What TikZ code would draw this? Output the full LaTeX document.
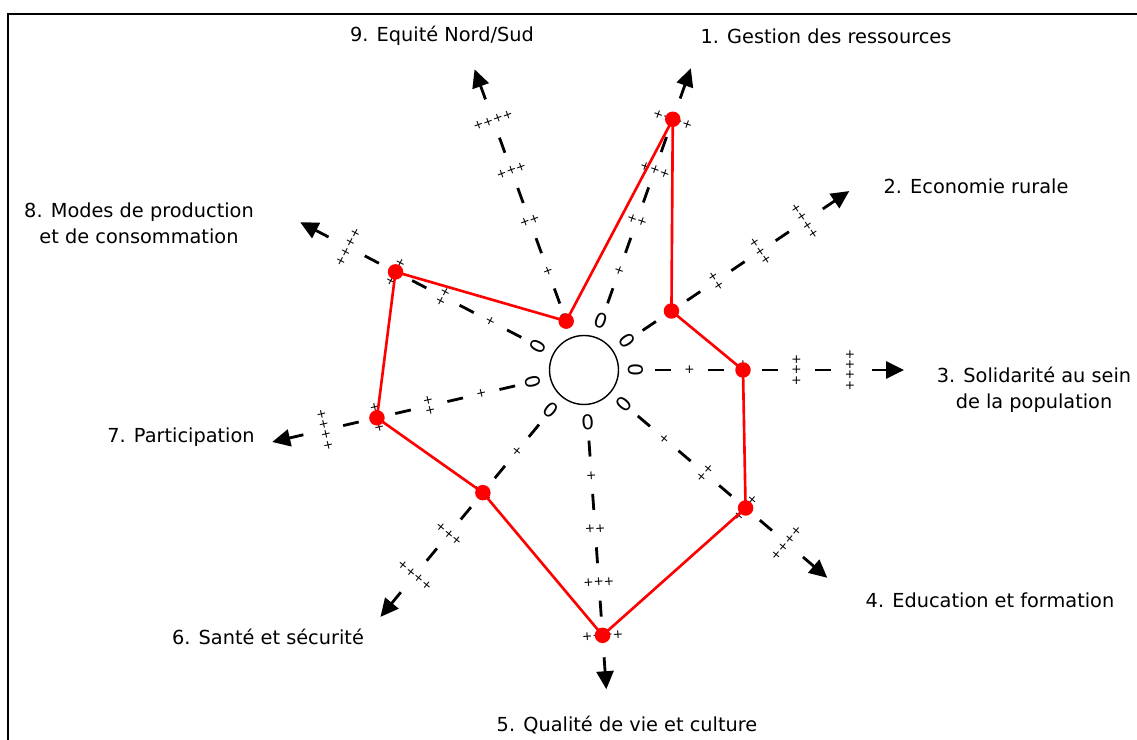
\documentclass[tikz,border=0pt]{standalone}
\usepackage{fontspec}
\setmainfont{DejaVu Sans}
\usetikzlibrary{arrows.meta,calc}
\pgfdeclarelayer{background}
\pgfdeclarelayer{foreground}
\pgfsetlayers{background,main,foreground}

\begin{document}
\begin{tikzpicture}[x=0.02cm,y=0.02cm,
  axe/.style={line width=1.6pt,dash pattern=on 0.32cm off 0.75cm},
  fleche/.style={line width=1.6pt,-{Triangle[length=3.6mm,width=3.4mm]}},
  niveau/.style={inner sep=0pt,font=\fontsize{7}{7}\selectfont},
  zero/.style={inner sep=0pt,font=\fontsize{11.5}{13}\selectfont},
  titre/.style={align=center,font=\fontsize{11}{14.8}\selectfont},
  profil/.style={red,line width=1.5pt}]
\useasboundingbox (0,0) rectangle (1137,740);
\draw[line width=1.1pt] (8,0) -- (8,726) -- (1137,726);
\coordinate (c) at (584,370);
\node[circle,draw,line width=0.8pt,inner sep=0pt,minimum size=1.38cm] (centre) at (c) {};
\begin{pgfonlayer}{background}
\foreach \i/\a in {1/70.5,2/34,3/0,4/-40.5,5/-86,6/-129.5,7/-167,8/152.5,9/110}{
  \coordinate (d\i) at ($(c)+(\a:70.75)$);
  \coordinate (f\i) at ($(c)+(\a:250)$);
  \coordinate (s\i) at ($(c)+(\a:288)$);
  \coordinate (t\i) at ($(c)+(\a:320)$);
  \draw[axe] (d\i) -- (f\i);
  \draw[fleche] (s\i) -- (t\i);
  \node[zero,rotate=\a-90] (n\i-0) at ($(c)+(\a:52)$) {0};
  \node[niveau,rotate=\a-90] (n\i-1) at ($(c)+(\a:105.5)$) {+};
  \node[niveau,rotate=\a-90] (n\i-2) at ($(c)+(\a:159)$) {++};
  \node[niveau,rotate=\a-90] (n\i-3) at ($(c)+(\a:212.5)$) {+++};
  \node[niveau,rotate=\a-90] (n\i-4) at ($(c)+(\a:266)$) {++++};
}
\end{pgfonlayer}

% libelles des axes
\node[titre] (lab1) at (826,704) {1. Gestion des ressources};
\node[titre] (lab2) at (976,554) {2. Economie rurale};
\node[titre] (lab3) at (1034,350) {3. Solidarité au sein\\de la population};
\node[titre] (lab4) at (990,140) {4. Education et formation};
\node[titre] (lab5) at (627,15) {5. Qualité de vie et culture};
\node[titre] (lab6) at (268,103) {6. Santé et sécurité};
\node[titre] (lab7) at (181,303) {7. Participation};
\node[titre] (lab8) at (139,517) {8. Modes de production\\et de consommation};
\node[titre] (lab9) at (442,704) {9. Equité Nord/Sud};

\begin{pgfonlayer}{foreground}
\draw[profil] (n1-4.center) -- (n2-1.center) -- (n3-2.center) -- (n4-3.center) -- (n5-4.center)
  -- (n6-2.center) -- (n7-3.center) -- (n8-3.center) -- (n9-0.center) -- cycle;
\foreach \p in {n1-4,n2-1,n3-2,n4-3,n5-4,n6-2,n7-3,n8-3,n9-0}
  \fill[red] (\p.center) circle (0.155cm);
\end{pgfonlayer}
\end{tikzpicture}
\end{document}
